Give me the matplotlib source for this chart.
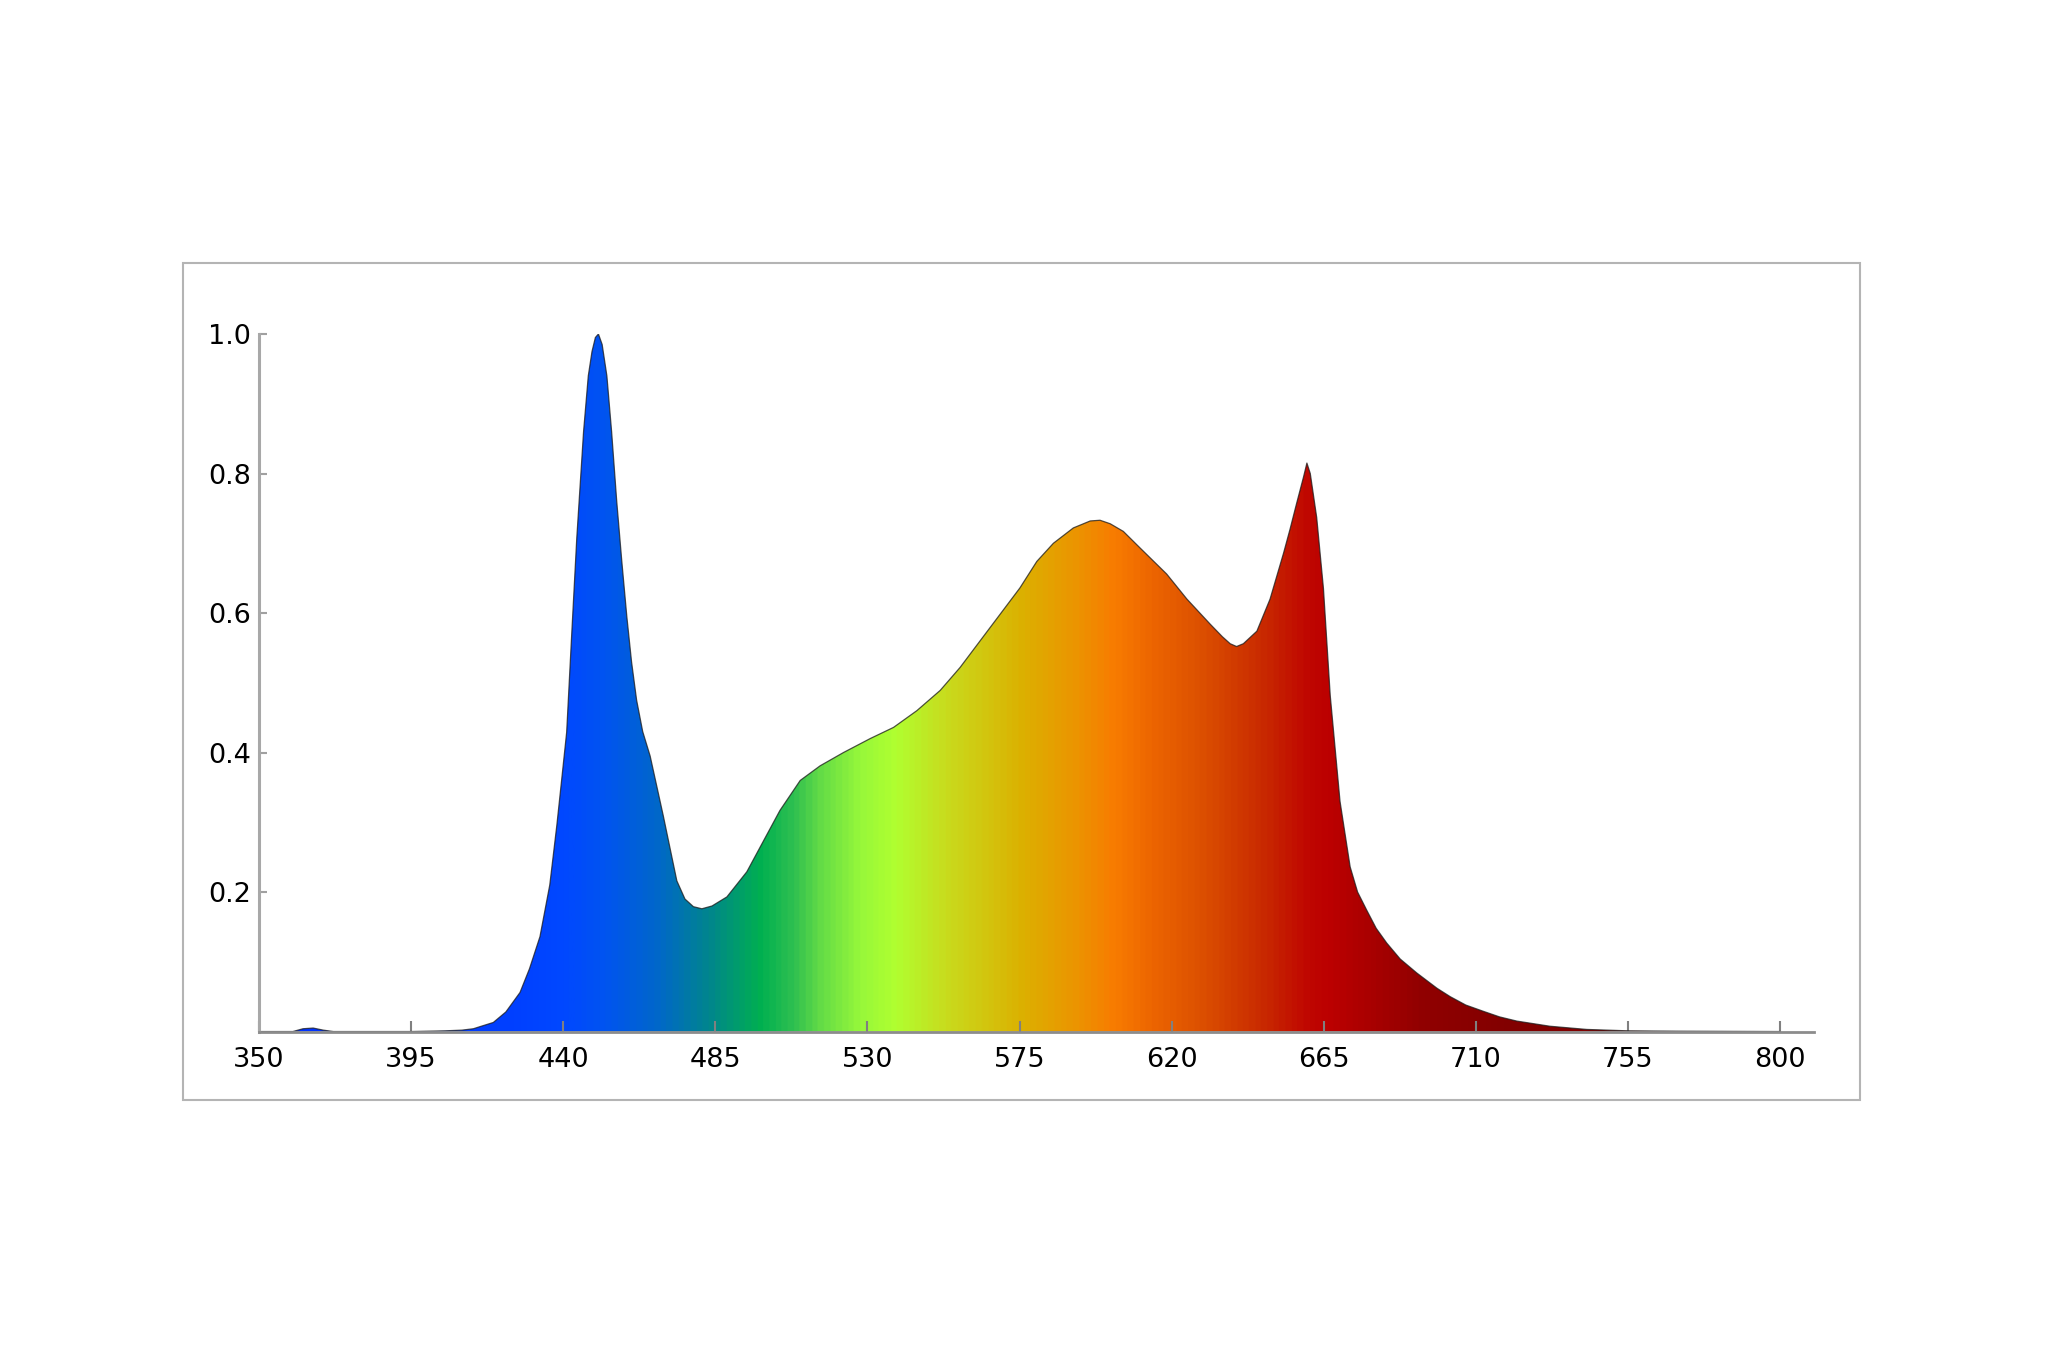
import numpy as np
import matplotlib
matplotlib.use("Agg")
import matplotlib.pyplot as plt
from matplotlib.colors import LinearSegmentedColormap
from matplotlib.patches import Rectangle

# spectrum (nm, relative intensity)
WAVELENGTH = [350, 360, 363, 366, 369, 372, 395, 405, 410, 413.4, 416, 419.3,
              423, 427.2, 430, 433.1, 436, 438.1, 439.5, 441.0, 442.5, 444.0,
              446.0, 447.4, 448.5, 449.5, 450.4, 451.5, 452.9, 454.3, 455.8,
              457.3, 458.8, 460.2, 461.7, 463.5, 465.7, 469.6, 473.6, 476,
              478.5, 481, 484, 488.4, 494.3, 500.2, 504.1, 510.1, 516.0, 522.9,
              530.8, 537.7, 544.6, 551.5, 557.4, 563.3, 569.2, 575.1, 580.1,
              585.0, 590.9, 595.9, 598.8, 601.8, 605.7, 610.7, 618.5, 624.5,
              631.4, 635, 637.3, 639.2, 641.2, 645.2, 649.1, 653.1, 655, 657.0,
              659, 660.0, 661, 662.9, 664.9, 666.9, 669.8, 672.8, 675, 677.7,
              680.5, 683.6, 687.6, 692.5, 695.5, 698.5, 702.4, 707, 712.2, 717,
              722.1, 731.9, 742.8, 755, 770, 800]
INTENSITY = [0, 0, 0.004, 0.005, 0.002, 0, 0, 0.001, 0.002, 0.004, 0.008, 0.013,
             0.028, 0.056, 0.09, 0.136, 0.21, 0.296, 0.36, 0.429, 0.57, 0.708,
             0.86, 0.94, 0.975, 0.995, 1.0, 0.985, 0.94, 0.86, 0.761,
             0.675, 0.595, 0.53, 0.475, 0.43, 0.395, 0.309, 0.216, 0.19,
             0.179, 0.176, 0.18, 0.193, 0.229, 0.282, 0.317, 0.36, 0.381, 0.40,
             0.42, 0.436, 0.46, 0.489, 0.522, 0.56, 0.598, 0.636, 0.674,
             0.70, 0.722, 0.732, 0.733, 0.728, 0.717, 0.693, 0.656, 0.62,
             0.584, 0.566, 0.556, 0.552, 0.556, 0.574, 0.62, 0.686, 0.72, 0.758,
             0.795, 0.815, 0.8, 0.737, 0.635, 0.482, 0.33, 0.236, 0.2, 0.174,
             0.148, 0.127, 0.104, 0.084, 0.073, 0.062, 0.05, 0.038, 0.029, 0.021,
             0.015, 0.0076, 0.003, 0.001, 0.0005, 0.0]

X_TICKS = [350, 395, 440, 485, 530, 575, 620, 665, 710, 755, 800]
Y_TICKS = [0.2, 0.4, 0.6, 0.8, 1.0]
Y_TICK_LABELS = ["0.2", "0.4", "0.6", "0.8", "1.0"]

# colour under the curve, by wavelength
STOP_NM = [350, 425, 440, 452, 468, 483, 498, 508, 516, 528, 538, 553, 576,
           592, 603, 615, 629, 648, 660, 667, 695, 720, 810]
STOP_COLOR = ['#0030ff', '#0040ff', '#0048ff', '#0054f0', '#0068c8', '#00868c',
              '#00b050', '#30c050', '#64dc46', '#98f83a', '#b0ff30', '#c8dc1e',
              '#dcb000', '#ec9400', '#f87c00', '#ec6400', '#dc5000', '#c82800',
              '#c00800', '#bc0000', '#900000', '#820000', '#800000']

XMIN, XMAX = 350, 810

fig = plt.figure(figsize=(20.48, 13.65), dpi=100)

# outer grey frame
fig.patches.append(Rectangle((0.0894, 0.1941), 0.8188, 0.6132,
                             transform=fig.transFigure, fill=False,
                             edgecolor='#b4b4b4', lw=1.5))

ax = fig.add_axes([0.1265, 0.2443, 0.7592, 0.511])

pos = [(n - XMIN) / (XMAX - XMIN) for n in STOP_NM]
cmap = LinearSegmentedColormap.from_list('spectrum', list(zip(pos, STOP_COLOR)))
grad = np.linspace(XMIN, XMAX, 1200).reshape(1, -1)
im = ax.imshow(grad, extent=[XMIN, XMAX, 0, 1], aspect='auto', cmap=cmap,
               vmin=XMIN, vmax=XMAX, origin='lower', interpolation='bilinear')
shape = ax.fill(WAVELENGTH, INTENSITY, facecolor='none', edgecolor='none')[0]
im.set_clip_path(shape)
ax.plot(WAVELENGTH, INTENSITY, color='#1a1a1a', lw=0.9, alpha=0.75)

ax.set_xlim(XMIN, XMAX)
ax.set_ylim(0, 1.0)
ax.set_xticks(X_TICKS)
ax.set_yticks(Y_TICKS)
ax.set_yticklabels(Y_TICK_LABELS)

for side in ['top', 'right']:
    ax.spines[side].set_visible(False)
ax.spines['left'].set_color('#a8a8a8')
ax.spines['left'].set_linewidth(2.2)
ax.spines['bottom'].set_color('#8c8c8c')
ax.spines['bottom'].set_linewidth(2.0)

ax.tick_params(axis='y', direction='in', length=6, width=1.5, color='#a0a0a0',
               pad=6, labelsize=19.5, labelcolor='#000000')
ax.tick_params(axis='x', direction='in', length=8, width=1.5, color='#808080',
               pad=11, labelsize=19.5, labelcolor='#000000')

fig.savefig("out.png", dpi=100, facecolor='white')
